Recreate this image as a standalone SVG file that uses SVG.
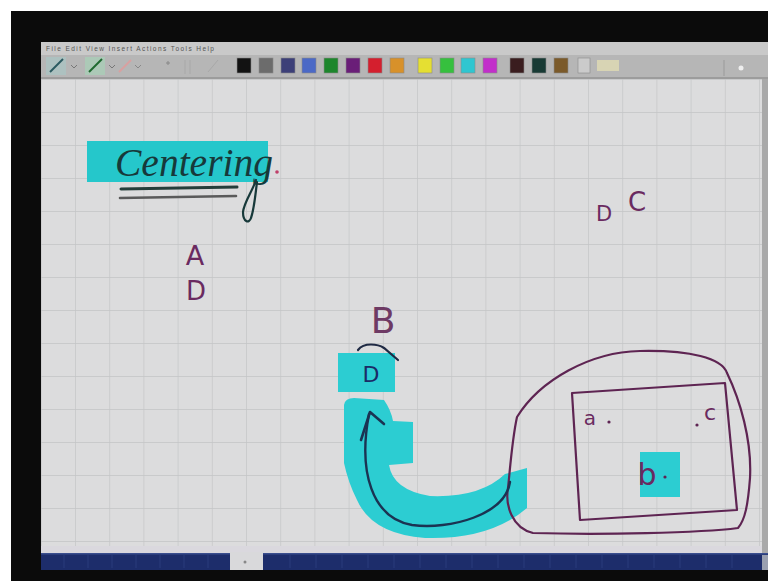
<svg xmlns="http://www.w3.org/2000/svg" width="768" height="581" viewBox="0 0 768 581">
<defs>
<style>
.ink{fill:none;stroke:#5e2452;stroke-width:2.2;stroke-linecap:round;stroke-linejoin:round}
.hand{font-family:"DejaVu Sans","Liberation Sans",sans-serif;fill:#6a2a60}
.cyan{fill:#2ccdd2}
.sw{stroke:#8a8a8a;stroke-width:0.6}
.menu{font-family:"Liberation Sans",sans-serif;font-size:6.5px;fill:#555}
.dot{fill:#5e2452}
</style>
<pattern id="grid" patternUnits="userSpaceOnUse" x="75" y="79" width="34.2" height="33">
<rect width="34.2" height="33" fill="#dcdcdd"/>
<path d="M0 0V33M0 0H34.2" stroke="#c3c4c6" stroke-width="1.3" fill="none"/>
</pattern>
</defs>
<rect width="768" height="581" fill="#ffffff"/>
<rect x="11" y="11" width="757" height="570" fill="#0b0b0b"/>
<!-- menu and toolbar -->
<g id="toolbar">
<rect x="41" y="42" width="727" height="13" fill="#c9c9c9"/>
<text class="menu" x="46" y="51" textLength="168" lengthAdjust="spacing">File  Edit  View  Insert  Actions  Tools  Help</text>
<rect x="41" y="55" width="727" height="24" fill="#b6b6b6"/>
<rect x="41" y="77" width="727" height="2" fill="#9c9c9c"/>
<rect x="46" y="57" width="20" height="18" fill="#a9c6c4" opacity="0.7"/>
<path d="M50 72L63 59" stroke="#2b5a60" stroke-width="2"/>
<path d="M71 65l3 3 3-3" stroke="#777" fill="none"/>
<rect x="85" y="57" width="20" height="18" fill="#a8d2b8" opacity="0.7"/>
<path d="M89 72L102 59" stroke="#1f6a30" stroke-width="2"/>
<path d="M109 65l3 3 3-3" stroke="#777" fill="none"/>
<path d="M119 72L131 60" stroke="#d8a0a0" stroke-width="2"/>
<path d="M135 65l3 3 3-3" stroke="#888" fill="none"/>
<path d="M168 61v4M166 63h4" stroke="#888" stroke-width="1"/>
<path d="M185 60v14M190 60v14" stroke="#a8a8a8" stroke-width="1"/>
<path d="M208 72L218 60" stroke="#a8a8a8" stroke-width="1"/>
<rect class="sw" x="237" y="58" width="14" height="15" fill="#121212"/>
<rect class="sw" x="259" y="58" width="14" height="15" fill="#6c6c6c"/>
<rect class="sw" x="281" y="58" width="14" height="15" fill="#3c3f78"/>
<rect class="sw" x="302" y="58" width="14" height="15" fill="#4b69c6"/>
<rect class="sw" x="324" y="58" width="14" height="15" fill="#1d862c"/>
<rect class="sw" x="346" y="58" width="14" height="15" fill="#6a1e78"/>
<rect class="sw" x="368" y="58" width="14" height="15" fill="#d41f2e"/>
<rect class="sw" x="390" y="58" width="14" height="15" fill="#d8912a"/>
<rect class="sw" x="418" y="58" width="14" height="15" fill="#e5df32"/>
<rect class="sw" x="440" y="58" width="14" height="15" fill="#36c03e"/>
<rect class="sw" x="461" y="58" width="14" height="15" fill="#2fc6d0"/>
<rect class="sw" x="483" y="58" width="14" height="15" fill="#c22fca"/>
<rect class="sw" x="510" y="58" width="14" height="15" fill="#3a1d1f"/>
<rect class="sw" x="532" y="58" width="14" height="15" fill="#183a34"/>
<rect class="sw" x="554" y="58" width="14" height="15" fill="#7b5a2a"/>
<rect class="sw" x="578" y="58" width="12" height="15" fill="#cbcbcb"/>
<rect x="597" y="60" width="22" height="11" fill="#d8d4b4"/>
<path d="M724 60v16" stroke="#9a9a9a"/>
<circle cx="741" cy="68" r="2.5" fill="#eeeeee"/>
</g>
<!-- canvas -->
<rect x="41" y="79" width="721" height="474" fill="url(#grid)"/>
<rect x="762" y="79" width="6" height="474" fill="#a9a9a9"/>
<rect x="41" y="546" width="721" height="7" fill="#dad8de"/>
<!-- bottom bar -->
<g id="statusbar">
<rect x="41" y="553" width="727" height="17" fill="#1d2d6b"/>
<rect x="41" y="553" width="727" height="1.5" fill="#3a4e8e"/>
<path d="M64 555v13M88 555v13M112 555v13M136 555v13M160 555v13M184 555v13M208 555v13M290 555v13M316 555v13M342 555v13M368 555v13M394 555v13M420 555v13M446 555v13M472 555v13M498 555v13M524 555v13M550 555v13M576 555v13M602 555v13M628 555v13M654 555v13M680 555v13M706 555v13M732 555v13" stroke="#2a3c7c" stroke-width="1"/>
<rect x="230" y="552" width="33" height="18" fill="#d9d9db"/>
<circle cx="245" cy="562" r="1.5" fill="#888"/>
<rect x="762" y="555" width="6" height="15" fill="#9aa0b0"/>
</g>
<!-- title -->
<g id="title">
<rect x="87" y="141" width="181" height="41" fill="#25c7cb"/>
<text x="115" y="176" font-family="Liberation Serif, serif" font-style="italic" font-size="40" fill="#17393a" textLength="158" lengthAdjust="spacingAndGlyphs">Centering</text>
<path d="M256 180c-4 12-12 22-13 32c0 10 6 12 8 6c3-8 4-20 6-36" fill="none" stroke="#17393a" stroke-width="2.2" stroke-linecap="round"/>
<circle cx="277" cy="172" r="1.8" fill="#c0406a"/>
<path d="M121 189L237 187" stroke="#253d3a" stroke-width="3" stroke-linecap="round"/>
<path d="M120 198L236 196" stroke="#5a5a5a" stroke-width="2.6" stroke-linecap="round"/>
</g>
<g id="letter-a"><text class="hand" x="195" y="265" font-size="27" text-anchor="middle">A</text></g>
<g id="letter-d"><text class="hand" x="196" y="300" font-size="26" text-anchor="middle">D</text></g>
<g id="label-dc">
<text class="hand" x="604" y="221" font-size="21" text-anchor="middle">D</text>
<text class="hand" x="637" y="211" font-size="26" text-anchor="middle">C</text>
</g>
<!-- B with cyan D -->
<g id="node-b">
<text x="383" y="333" font-family="DejaVu Sans, sans-serif" font-size="36" fill="#6e3a64" text-anchor="middle">B</text>
<rect class="cyan" x="338" y="353" width="57" height="39"/>
<path d="M358 350c6-8 20-6 26-2l14 12" fill="none" stroke="#1f2a44" stroke-width="2.2" stroke-linecap="round"/>
<text x="371" y="382" font-family="DejaVu Sans, sans-serif" font-size="22" fill="#1b2b66" text-anchor="middle">D</text>
</g>
<!-- cyan highlight of the arrow -->
<g id="highlight">
<path class="cyan" d="M344 405Q345 398 354 398L384 400Q391 410 393 421L413 422L413 463L389 465Q393 490 430 496Q480 498 505 474L527 468L527 508Q490 540 425 538Q372 534 357 500Q348 482 344 463Z"/>
</g>
<!-- shape on the right -->
<g id="region">
<path class="ink" d="M517 417C540 380 590 352 640 351C690 350 722 358 727 373C740 400 752 440 750 478C748 505 745 520 738 528C700 533 600 535 533 533C512 528 505 505 508 488C510 470 512 440 517 417Z"/>
<path class="ink" d="M572 393L725 383L737 510L580 520Z"/>
<text class="hand" x="590" y="425" font-size="20" text-anchor="middle">a</text>
<circle class="dot" cx="609" cy="422" r="1.6"/>
<circle class="dot" cx="697" cy="425" r="1.6"/>
<text class="hand" x="710" y="420" font-size="22" text-anchor="middle">c</text>
<rect class="cyan" x="640" y="452" width="40" height="45"/>
<text class="hand" x="647" y="485" font-size="30" text-anchor="middle">b</text>
<circle class="dot" cx="665" cy="477" r="1.6"/>
</g>
<g id="connectors">
<path d="M510 482C505 515 450 530 412 525C372 518 358 472 369 414" fill="none" stroke="#1b3352" stroke-width="2.4" stroke-linecap="round"/>
<path d="M361 440L370 412L384 424" fill="none" stroke="#1b3352" stroke-width="2.6" stroke-linecap="round" stroke-linejoin="round"/>
</g>
</svg>
